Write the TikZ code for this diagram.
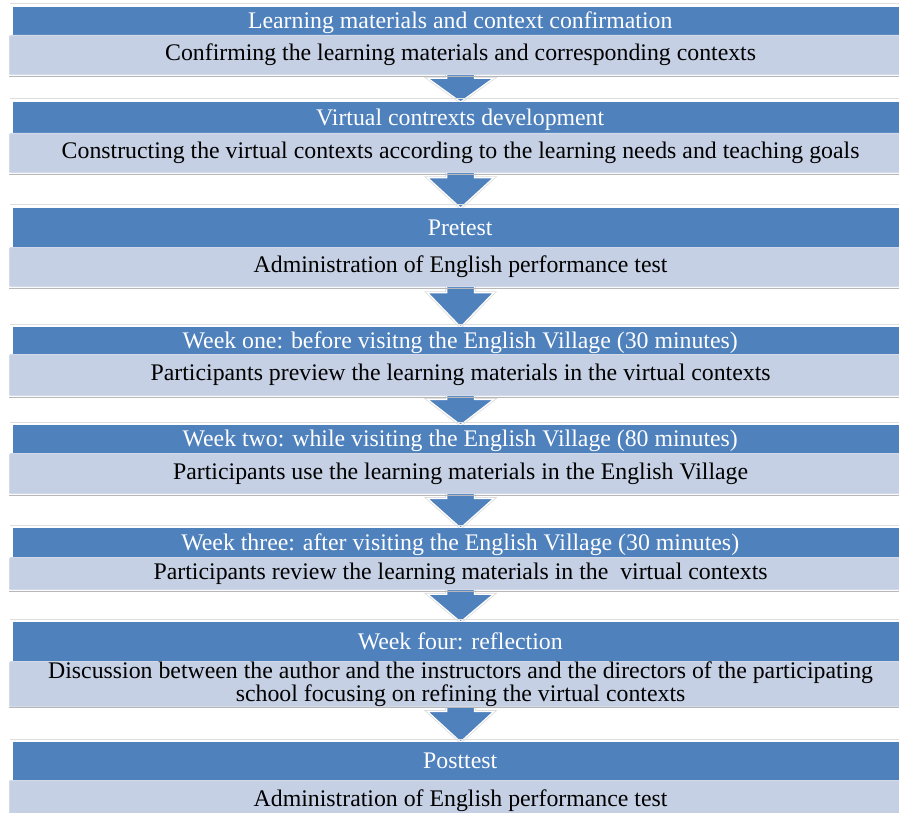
\documentclass[tikz,border=0pt]{standalone}
\usepackage{fontspec}
\setmainfont{Liberation Serif}
\usetikzlibrary{calc, backgrounds}

\definecolor{hdrblue}{HTML}{4F81BD}
\definecolor{bodyblue}{HTML}{C5D0E4}
\definecolor{bodyedge}{HTML}{D2DAEA}

\tikzset{
  stagehead/.style={rectangle, anchor=north west, fill=hdrblue, text=white,
    inner sep=0pt, minimum width=894, text height=17pt, text depth=2pt,
    font=\fontsize{23.8}{21}\selectfont},
  stagebody/.style={rectangle, anchor=north west, fill=bodyblue, draw=bodyedge,
    line width=1.2pt, rounded corners=1pt, inner sep=0pt, minimum width=902,
    align=center, font=\fontsize{23.8}{21}\selectfont},
  topline/.style={draw=black!13, line width=1pt},
  shadowline/.style={draw=black!28, line width=1pt},
  blockarrow/.style={fill=hdrblue, draw=white, line width=1.3pt, line join=miter,
    preaction={draw=black!14, line width=2.8pt}}
}

% block arrow from a stage body down to the next stage header
\newcommand{\flowarrow}[2]{%
  \begin{scope}[on background layer]
    \draw[blockarrow] let \p1=($(#1.south)+(0,3pt)$), \p2=(#2.north),
        \n1={\y1+0.2*(\y2-\y1)} in
      (\x1-14pt,\y1) -- (\x1+14pt,\y1) -- (\x1+14pt,\n1) -- (\x1+33pt,\n1)
      -- (\x1,\y2) -- (\x1-33pt,\n1) -- (\x1-14pt,\n1) -- cycle;
  \end{scope}}

\begin{document}
\begin{tikzpicture}[x=1pt, y=-1pt]

  \useasboundingbox (0,0) rectangle (899,813);

  % Stage 1
  \node[stagehead, minimum height=28] (h1) at (13,7) {Learning materials and context confirmation};
  \node[stagebody, minimum height=39] (b1) at (9,35) {Confirming the learning materials and corresponding contexts};

  % Stage 2
  \node[stagehead, minimum height=31] (h2) at (13,102) {Virtual contrexts development};
  \node[stagebody, minimum height=39] (b2) at (9,133) {Constructing the virtual contexts according to the learning needs and teaching goals};

  % Stage 3
  \node[stagehead, minimum height=39] (h3) at (13,208) {Pretest};
  \node[stagebody, minimum height=39] (b3) at (9,247) {Administration of English performance test};

  % Stage 4
  \node[stagehead, minimum height=27] (h4) at (13,327) {Week one: before visitng the English Village (30 minutes)};
  \node[stagebody, minimum height=41] (b4) at (9,354) {Participants preview the learning materials in the virtual contexts};

  % Stage 5
  \node[stagehead, minimum height=28] (h5) at (13,425) {Week two: while visiting the English Village (80 minutes)};
  \node[stagebody, minimum height=40] (b5) at (9,453) {Participants use the learning materials in the English Village};

  % Stage 6
  \node[stagehead, minimum height=29] (h6) at (13,528) {Week three: after visiting the English Village (30 minutes)};
  \node[stagebody, minimum height=32] (b6) at (9,557) {Participants review the learning materials in the \ virtual contexts};

  % Stage 7
  \node[stagehead, minimum height=39] (h7) at (13,622) {Week four: reflection};
  \node[stagebody, minimum height=39] (b7) at (9,661) {Discussion between the author and the instructors and the directors of the participating\\ school focusing on refining the virtual contexts};

  % Stage 8
  \node[stagehead, minimum height=38] (h8) at (13,742) {Posttest};
  \node[stagebody, minimum height=40] (b8) at (9,780) {Administration of English performance test};

  % thin rules above the headers, shadows under the bodies
  \foreach \n in {1,...,8} {
    \draw[topline] ([xshift=-3pt, yshift=3pt]h\n.north west) -- ([yshift=3pt]h\n.north east);
    \draw[shadowline] ([yshift=-1pt]b\n.south west) -- ([yshift=-1pt]b\n.south east);
  }

  % Arrows between the stages
  \flowarrow{b1}{h2}
  \flowarrow{b2}{h3}
  \flowarrow{b3}{h4}
  \flowarrow{b4}{h5}
  \flowarrow{b5}{h6}
  \flowarrow{b6}{h7}
  \flowarrow{b7}{h8}

\end{tikzpicture}
\end{document}
